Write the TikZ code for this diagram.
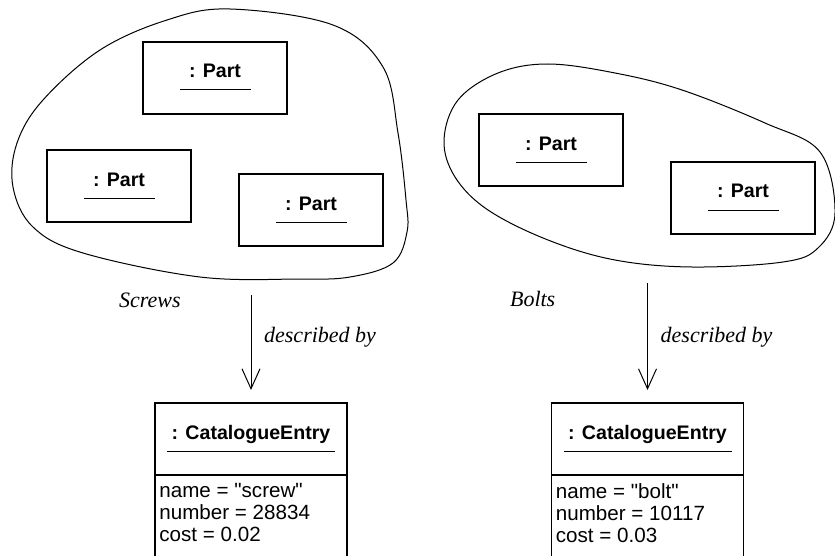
\documentclass[tikz,border=0pt]{standalone}
\usepackage{fontspec}
\setmainfont{Liberation Sans}
\newfontfamily\relfont{Liberation Serif}
\usetikzlibrary{arrows.meta,positioning}
\tikzset{
  objbox/.style    = {draw, line width=0.6pt, minimum width=72pt, minimum height=36pt,
                      text height=8pt, text depth=8pt, outer sep=0pt,
                      font=\bfseries\fontsize{9.8}{12}\selectfont,
                      path picture={\draw[line width=0.5pt]
                        ([xshift=-17.75pt,yshift=-6pt]path picture bounding box.center) -- ++(35.5pt,0);}},
  entryhead/.style = {draw, line width=0.6pt, minimum width=96pt, minimum height=36pt,
                      text height=8pt, text depth=8pt, outer sep=0pt,
                      font=\bfseries\fontsize{9.8}{12}\selectfont,
                      path picture={\draw[line width=0.5pt]
                        ([xshift=-42pt,yshift=-6pt]path picture bounding box.center) -- ++(84pt,0);}},
  entrybody/.style = {draw, line width=0.6pt, minimum width=96pt, minimum height=48pt, outer sep=0pt},
  attr/.style      = {align=left, inner sep=0pt, anchor=north west,
                      font=\fontsize{10.3}{11}\selectfont},
  rel/.style       = {font=\relfont\itshape\fontsize{11}{13}\selectfont},
  link/.style      = {-{Straight Barb[length=10pt,width=9pt]}, line width=0.5pt, shorten >=6.5pt},
  blob/.style      = {line width=0.5pt},
}
\begin{document}
\begin{tikzpicture}[x=0.5pt, y=-0.5pt]
  \useasboundingbox (0,0) rectangle (835,556);
  % the two sets of parts
  \draw[blob] plot[smooth cycle, tension=0.6] coordinates {
    (230,9) (333,25) (383,67) (398,133) (406,200) (407,232) (393,263) (350,277)
    (300,279) (200,277) (83,253) (33,227) (13,187) (17,143) (43,100) (100,50) (167,20)};
  \draw[blob] plot[smooth cycle, tension=0.6] coordinates {
    (548,64) (615,73) (682,90) (765,123) (820,152) (835,213) (818,248) (783,262)
    (692,267) (615,260) (548,240) (488,210) (455,177) (444,140) (458,100) (498,73)};
  \node[objbox] (screw1) at (215,78)  {: Part};
  \node[objbox] (screw2) at (119,186) {: Part};
  \node[objbox] (screw3) at (311,210) {: Part};
  \node[objbox] (bolt1)  at (551,150) {: Part};
  \node[objbox] (bolt2)  at (743,198) {: Part};
  \node[rel, anchor=base west] (screwSet) at (112,307) {Screws};
  \node[rel, anchor=base west] (boltSet)  at (503,306) {Bolts};
  % catalogue entries
  \node[entryhead] (screwHead) at (251,439) {: CatalogueEntry};
  \node[entrybody, below=0pt of screwHead] (screwBody) {};
  \node[attr] (screwAttr) at ([shift={(2pt,-4pt)}]screwBody.north west)
    {name = \textquotedbl screw\textquotedbl\\ number = 28834\\ cost = 0.02};
  \node[entryhead] (boltHead) at (647.5,439) {: CatalogueEntry};
  \node[entrybody, below=0pt of boltHead] (boltBody) {};
  \node[attr] (boltAttr) at ([shift={(2pt,-4pt)}]boltBody.north west)
    {name = \textquotedbl bolt\textquotedbl\\ number = 10117\\ cost = 0.03};
  % links
  \coordinate (screwTail) at (251,295);
  \coordinate (boltTail)  at (647.5,283);
  \draw[link] (screwTail) -- (screwHead) node[rel, right=3pt, pos=0.39] {described by};
  \draw[link] (boltTail) -- (boltHead) node[rel, right=3pt, pos=0.45] {described by};
\end{tikzpicture}
\end{document}
